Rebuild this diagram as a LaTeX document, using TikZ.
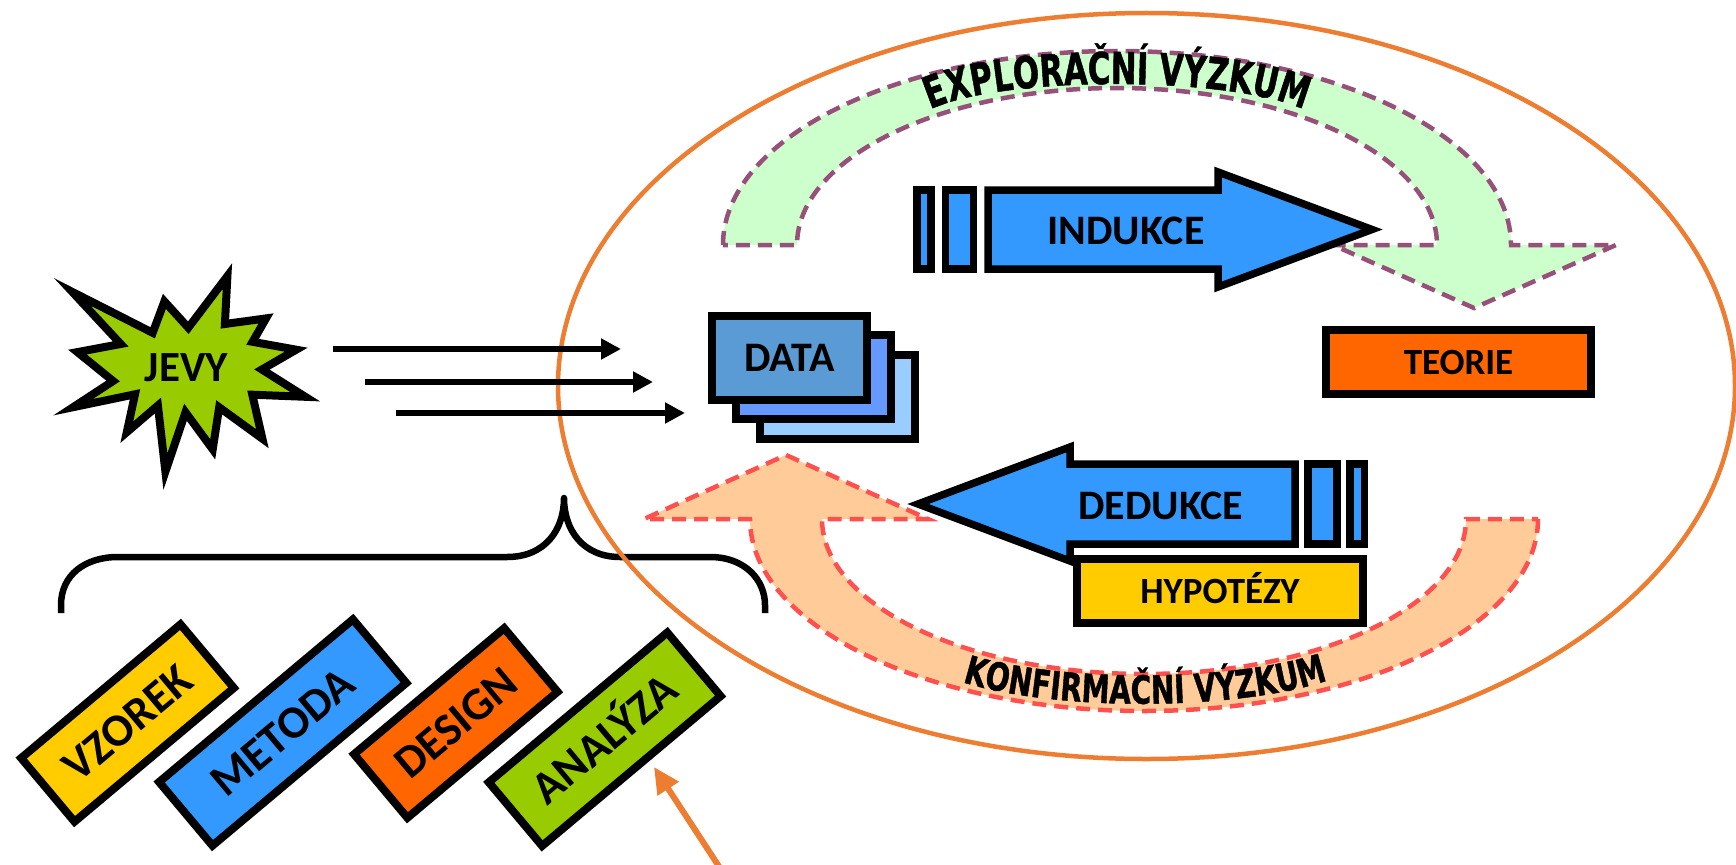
\documentclass[tikz,border=0pt]{standalone}
\usepackage{fontspec}
\setmainfont{Carlito}
\newfontfamily\arcfont[FakeStretch=0.7,FakeBold=1]{DejaVu Sans}
\newfontfamily\arcfontb[FakeStretch=0.72,FakeBold=1]{DejaVu Sans}
\usetikzlibrary{arrows.meta,decorations.text}
\definecolor{jevyg}{HTML}{99CC00}
\definecolor{bluearr}{HTML}{3399FF}
\definecolor{datafront}{HTML}{5B9BD5}
\definecolor{datamid}{HTML}{6699FF}
\definecolor{databack}{HTML}{99CCFF}
\definecolor{teor}{HTML}{FF6600}
\definecolor{hyp}{HTML}{FFCC00}
\definecolor{exfill}{HTML}{CCFFCC}
\definecolor{exline}{HTML}{96507A}
\definecolor{kofill}{HTML}{FFCC99}
\definecolor{koline}{HTML}{FF5050}
\definecolor{ellor}{HTML}{ED7D31}
\begin{document}
\begin{tikzpicture}[x=1pt,y=-1pt,
  lbl/.style={font=\bfseries\fontsize{42}{42}\selectfont, inner sep=0pt, text height=27pt, text depth=0pt},
  box/.style={draw=black, line width=8pt, inner sep=0pt},
  bar/.style={draw=black, fill=bluearr, line width=7.5pt},
  bigarrow/.style={draw=black, fill=bluearr, line width=7.5pt, line join=miter},
  band/.style={line width=4.5pt, dash pattern=on 14pt off 8pt},
  flow/.style={line width=6pt, -{Triangle[length=20pt,width=20pt]}},
  tilt/.style={box, rotate=40, minimum height=83pt, font=\bfseries\fontsize{46}{46}\selectfont, text height=30pt, text depth=0pt},
]
\useasboundingbox (0,0) rectangle (1736,864);
\fill[white] (0,0) rectangle (1736,864);

% exploratory band (green)
\filldraw[band, fill=exfill, draw=exline] (723,245) arc[start angle=180, end angle=360, x radius=394, y radius=194]
  -- (1616,245) -- (1474,308) -- (1333,245) -- (1437,245)
  arc[start angle=360, end angle=180, x radius=320, y radius=157] -- cycle;
% confirmatory band (peach)
\filldraw[band, fill=kofill, draw=koline] (1538,519) arc[start angle=0, end angle=180, x radius=394, y radius=192]
  -- (644,519) -- (786,455) -- (928,519) -- (822,519)
  arc[start angle=180, end angle=0, x radius=322, y radius=155] -- cycle;

\path[decorate, decoration={text along path, text align=center,
  text={|\arcfont\bfseries\fontsize{44}{44}\selectfont|EXPLORAČNÍ VÝZKUM}}]
  (922,114) .. controls (985,74) and (1245,74) .. (1312,114);
\path[decorate, decoration={text along path, text align=center,
  text={|\arcfontb\bfseries\fontsize{39}{39}\selectfont|KONFIRMAČNÍ VÝZKUM}}]
  (948,677) .. controls (1040,713) and (1250,713) .. (1342,675);

% brace
\draw[line width=6.5pt, line join=round] (61,613) -- (61,605) .. controls (61,575) and (85,557) .. (118,557)
  -- (507,557) .. controls (545,557) and (564,530) .. (564,498)
  .. controls (564,530) and (583,557) .. (620,557)
  -- (710,557) .. controls (745,557) and (765,580) .. (765,605) -- (765,613);

% ellipse
\draw[ellor, line width=4.5pt] (1146.5,386) ellipse [x radius=588.5, y radius=373];

% flow arrows
\coordinate (f1s) at (333,349); \coordinate (f1e) at (621,349);
\coordinate (f2s) at (365,382); \coordinate (f2e) at (653,382);
\coordinate (f3s) at (396,413); \coordinate (f3e) at (685,413);
\draw[flow] (f1s) -- (f1e);
\draw[flow] (f2s) -- (f2e);
\draw[flow] (f3s) -- (f3e);

% JEVY star
\filldraw[fill=jevyg, draw=black, line width=8pt, line join=miter]
  (72.3,291.9) -- (152.7,332.8) -- (164.4,301.4) -- (188.3,327.7) -- (227.4,276.1) -- (224.9,324)
  -- (266,318.4) -- (252.6,341.8) -- (296.2,349.7) -- (261.9,369.5) -- (305.3,396.8) -- (252.3,394.7)
  -- (262.4,438.7) -- (219.2,407.3) -- (212.7,449.3) -- (185.5,412.3) -- (165.4,471.6) -- (157.9,405.5)
  -- (126.8,432.2) -- (135,394.3) -- (73.1,407.2) -- (113.1,381) -- (77.4,352.1) -- (120.7,344) -- cycle;
\node[lbl, font=\bfseries\fontsize{43}{43}\selectfont] (jevy) at (186.4,367.8) {JEVY};

% DATA stack
\node[box, fill=databack, minimum width=155pt, minimum height=84pt] (data3) at (837.5,397) {};
\node[box, fill=datamid, minimum width=155pt, minimum height=84pt] (data2) at (813.5,377) {};
\node[box, fill=datafront, minimum width=155pt, minimum height=84pt, font=\bfseries\fontsize{42}{42}\selectfont, text height=27pt, text depth=0pt] (data) at (789.5,358) {DATA};

% INDUKCE
\filldraw[bar] (917,190) rectangle (931,269);
\filldraw[bar] (945.5,190) rectangle (973.5,269);
\filldraw[bigarrow] (988,190) -- (1218,190) -- (1218,172) -- (1372,229.5) -- (1218,287) -- (1218,269) -- (988,269) -- cycle;
\node[lbl] (indukce) at (1126,231) {INDUKCE};

% DEDUKCE
\filldraw[bar] (1308,464) rectangle (1337,544);
\filldraw[bar] (1350,464) rectangle (1364.5,544);
\filldraw[bigarrow] (1295,464) -- (1070,464) -- (1070,447) -- (918,504) -- (1070,561) -- (1070,544) -- (1295,544) -- cycle;
\node[lbl] (dedukce) at (1160.7,506) {DEDUKCE};

% TEORIE, HYPOTEZY
\node[box, fill=teor, minimum width=265pt, minimum height=64pt, font=\bfseries\fontsize{37}{37}\selectfont, text height=24pt, text depth=0pt] (teorie) at (1458.5,362) {TEORIE};
\node[box, fill=hyp, minimum width=286pt, minimum height=64pt, font=\bfseries\fontsize{37}{37}\selectfont, text height=24pt, text depth=0pt] (hypotezy) at (1220,591) {HYPOTÉZY};

% tilted boxes
\node[tilt, fill=hyp, minimum width=208pt] (vzorek) at (127.5,723) {VZOREK};
\node[tilt, fill=bluearr, minimum width=253pt] (metoda) at (282.7,732.5) {METODA};
\node[tilt, fill=teor, minimum width=196pt] (design) at (455.8,723) {DESIGN};
\node[tilt, fill=jevyg, minimum width=233pt] (analyza) at (604.7,739.2) {ANALÝZA};

% orange pointer
\coordinate (ptail) at (720,868);
\coordinate (ptip) at (654,767);
\draw[ellor, line width=6pt, -{Triangle[length=26pt,width=24pt]}] (ptail) -- (ptip);
\end{tikzpicture}
\end{document}
